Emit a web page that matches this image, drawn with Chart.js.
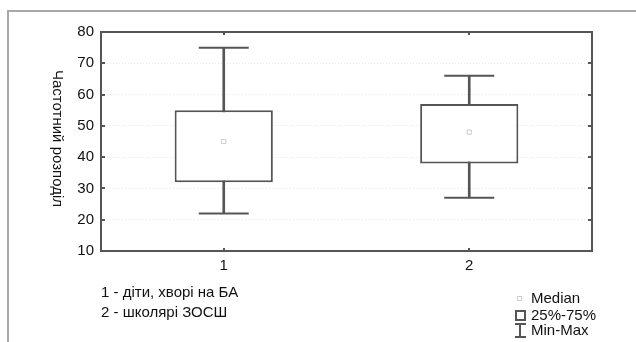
<!DOCTYPE html>
<html>
<head>
<meta charset="utf-8">
<script src="https://cdn.jsdelivr.net/npm/chart.js@4/dist/chart.umd.min.js"></script>
<style>
  html, body { margin: 0; padding: 0; background: #fff; }
  #wrap { position: relative; width: 636px; height: 342px; overflow: hidden;
          font-family: "Liberation Sans", Arial, Helvetica, sans-serif; color: #111; }
  #chart { position: absolute; left: 0; top: 0; }
  .txt { position: absolute; font-size: 15px; line-height: 16px; white-space: nowrap; }
  #ytitle { position: absolute; left: 50px; top: 70px; font-size: 15px; line-height: 16px;
            writing-mode: vertical-rl; white-space: nowrap; }
  .ico { position: absolute; box-sizing: border-box; }
</style>
</head>
<body>
<div id="wrap">
  <canvas id="chart" width="636" height="342"></canvas>
  <div id="ytitle">Частотний розподіл</div>
  <div class="txt" style="left:101px; top:284px;">1 - діти, хворі на БА</div>
  <div class="txt" style="left:101px; top:304px;">2 - школярі ЗОСШ</div>

  <div class="ico" style="left:517px; top:296px; width:5px; height:5px; border:1px solid #ccc;"></div>
  <div class="txt" style="left:531px; top:290px;">Median</div>
  <div class="ico" style="left:515px; top:310px; width:11px; height:11px; border:2px solid #555;"></div>
  <div class="txt" style="left:531px; top:307px;">25%-75%</div>
  <div class="ico" style="left:515px; top:323px; width:11px; height:2px; background:#555;"></div>
  <div class="ico" style="left:519px; top:323px; width:2px; height:15px; background:#555;"></div>
  <div class="ico" style="left:515px; top:336px; width:11px; height:2px; background:#555;"></div>
  <div class="txt" style="left:531px; top:322px;">Min-Max</div>
</div>
<script>
// Groups and their distribution statistics
const categories = ['1', '2'];
const minVals    = [22, 27];
const q1Vals     = [32, 38];
const medianVals = [45, 48];
const q3Vals     = [55, 57];
const maxVals    = [75, 66];
const yMin = 10, yMax = 80, yStep = 10;

const frameColor = '#555';

// Outer panel border, plot frame and inward tick marks
const framePlugin = {
  id: 'frame',
  beforeDraw(chart) {
    const ctx = chart.ctx;
    ctx.save();
    ctx.strokeStyle = '#a8a8a8';
    ctx.lineWidth = 2;
    ctx.beginPath();
    ctx.moveTo(8, 342);
    ctx.lineTo(8, 11);
    ctx.lineTo(636, 11);
    ctx.stroke();
    ctx.restore();
  },
  afterDatasetsDraw(chart) {
    const { ctx, chartArea: a, scales } = chart;
    ctx.save();
    ctx.strokeStyle = frameColor;
    ctx.lineWidth = 2;
    ctx.strokeRect(a.left, a.top, a.right - a.left, a.bottom - a.top);
    ctx.beginPath();
    scales.y.ticks.forEach(t => {
      const y = Math.round(scales.y.getPixelForValue(t.value));
      if (t.value === yMin || t.value === yMax) return;
      ctx.moveTo(a.left, y); ctx.lineTo(a.left + 4, y);
      ctx.moveTo(a.right, y); ctx.lineTo(a.right - 4, y);
    });
    categories.forEach((c, i) => {
      const x = Math.round(scales.x.getPixelForValue(i));
      ctx.moveTo(x, a.top); ctx.lineTo(x, a.top + 3);
      ctx.moveTo(x, a.bottom); ctx.lineTo(x, a.bottom - 3);
    });
    ctx.stroke();
    ctx.restore();
  }
};

new Chart(document.getElementById('chart'), {
  data: {
    labels: categories,
    datasets: [
      {
        type: 'line',
        label: 'Median',
        data: medianVals,
        showLine: false,
        pointStyle: 'rect',
        pointRadius: 3,
        pointBackgroundColor: '#fff',
        pointBorderColor: '#ccc',
        pointBorderWidth: 1,
        order: 0
      },
      {
        type: 'line',
        label: 'Max',
        data: maxVals,
        showLine: false,
        pointStyle: 'line',
        pointRadius: 25,
        pointBorderColor: frameColor,
        pointBorderWidth: 2,
        order: 0
      },
      {
        type: 'line',
        label: 'Min',
        data: minVals,
        showLine: false,
        pointStyle: 'line',
        pointRadius: 25,
        pointBorderColor: frameColor,
        pointBorderWidth: 2,
        order: 0
      },
      {
        type: 'bar',
        label: '25%-75%',
        data: categories.map((c, i) => [q1Vals[i], q3Vals[i]]),
        backgroundColor: '#fff',
        borderColor: frameColor,
        borderWidth: 2,
        borderSkipped: false,
        grouped: false,
        barPercentage: 0.4,
        categoryPercentage: 1,
        order: 1
      },
      {
        type: 'bar',
        label: 'Min-Max',
        data: categories.map((c, i) => [minVals[i], maxVals[i]]),
        backgroundColor: frameColor,
        borderWidth: 0,
        grouped: false,
        barThickness: 2,
        order: 2
      }
    ]
  },
  options: {
    responsive: false,
    animation: false,
    layout: { padding: { left: 0, top: 32, right: 44, bottom: 0 } },
    plugins: { legend: { display: false }, tooltip: { enabled: false } },
    scales: {
      x: {
        type: 'category',
        offset: true,
        grid: { display: false, drawTicks: false },
        border: { display: false },
        ticks: {
          color: '#111',
          padding: 6,
          font: { family: '"Liberation Sans", Arial, sans-serif', size: 15 }
        },
        afterFit(s) { s.height = 91; }
      },
      y: {
        min: yMin,
        max: yMax,
        grid: { color: '#e6e6e6', lineWidth: 1, drawTicks: false },
        border: { display: false, dash: [1, 2] },
        ticks: {
          stepSize: yStep,
          color: '#111',
          padding: 7,
          font: { family: '"Liberation Sans", Arial, sans-serif', size: 15 }
        },
        afterFit(s) { s.width = 101; }
      }
    }
  },
  plugins: [framePlugin]
});
</script>
</body>
</html>
